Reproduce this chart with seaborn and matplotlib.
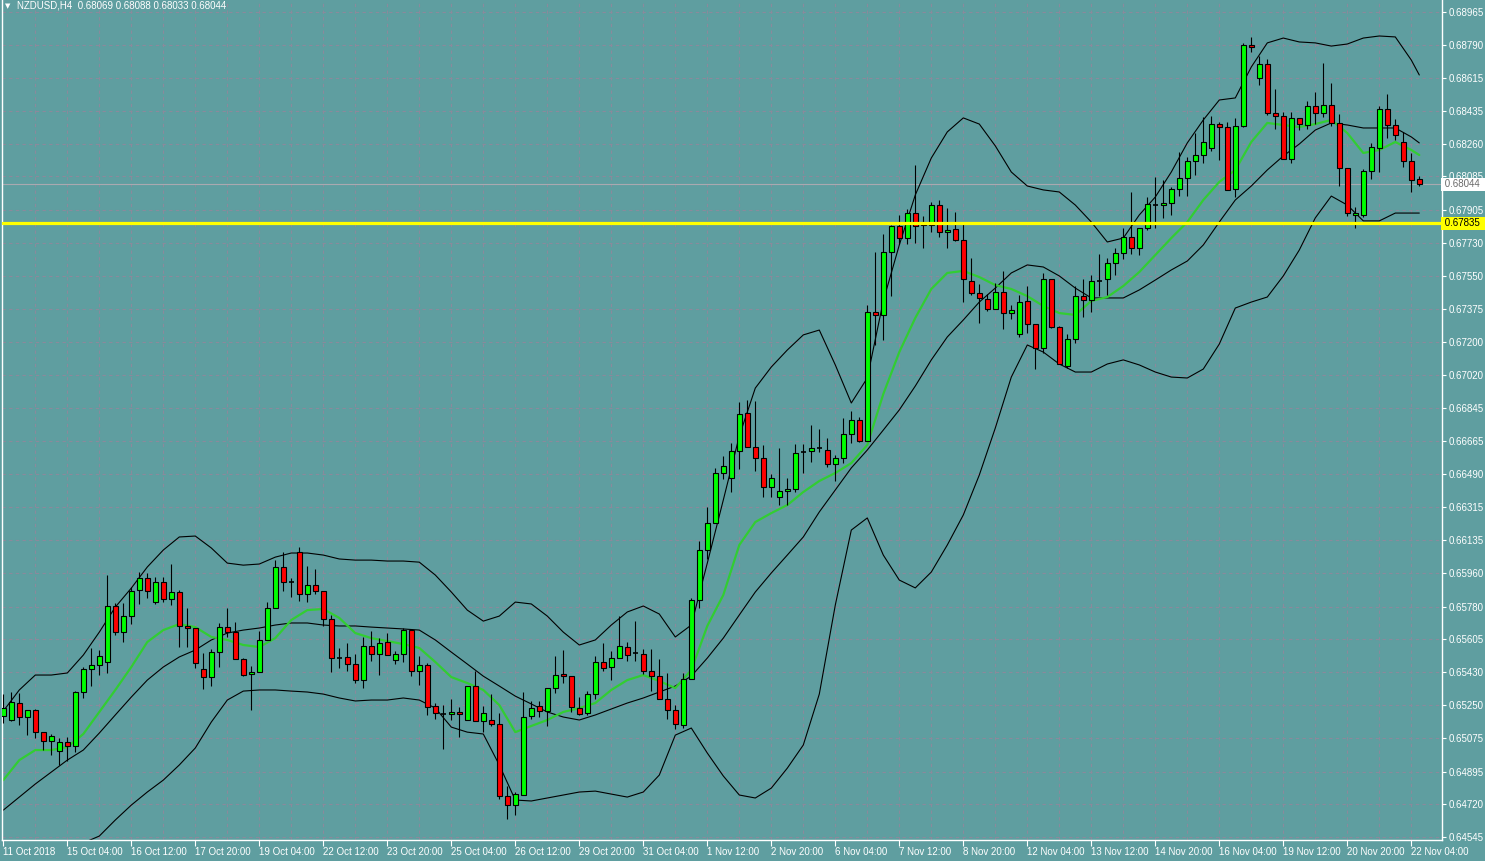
import matplotlib
matplotlib.use("Agg")
import matplotlib.pyplot as plt
import matplotlib.transforms as mtransforms
import seaborn as sns

# ---------------------------------------------------------------
# NZDUSD H4 candles, bar 0 = 11 Oct 2018 20:00
# ---------------------------------------------------------------
open_ = [
    0.65193, 0.65172, 0.65263, 0.65188, 0.65225, 0.65107, 0.65059, 0.65006, 0.65054, 0.65032,
    0.65322, 0.65445, 0.65467, 0.65483, 0.65783, 0.65643, 0.65729, 0.65869, 0.65933, 0.65804,
    0.65911, 0.65820, 0.65858, 0.65676, 0.65665, 0.65445, 0.65402, 0.65536, 0.65670, 0.65643,
    0.65499, 0.65418, 0.65429, 0.65601, 0.65772, 0.65992, 0.65911, 0.66072, 0.65847, 0.65895,
    0.65863, 0.65713, 0.65504, 0.65510, 0.65472, 0.65386, 0.65569, 0.65526, 0.65590, 0.65493,
    0.65526, 0.65654, 0.65434, 0.65467, 0.65247, 0.65204, 0.65204, 0.65215, 0.65172, 0.65354,
    0.65166, 0.65172, 0.65150, 0.64764, 0.64716, 0.64770, 0.65193, 0.65247, 0.65220, 0.65343,
    0.65418, 0.65407, 0.65236, 0.65209, 0.65311, 0.65483, 0.65456, 0.65504, 0.65563, 0.65531,
    0.65526, 0.65434, 0.65407, 0.65284, 0.65225, 0.65145, 0.65392, 0.65815, 0.66083, 0.66228,
    0.66496, 0.66469, 0.66614, 0.66817, 0.66635, 0.66576, 0.66420, 0.66367, 0.66399, 0.66410,
    0.66608, 0.66614, 0.66630, 0.66619, 0.66544, 0.66576, 0.66705, 0.66780, 0.66667, 0.67359,
    0.67343, 0.67680, 0.67820, 0.67755, 0.67889, 0.67841, 0.67825, 0.67932, 0.67787, 0.67804,
    0.67745, 0.67525, 0.67461, 0.67429, 0.67375, 0.67466, 0.67353, 0.67241, 0.67418, 0.67294,
    0.67166, 0.67536, 0.67278, 0.67069, 0.67214, 0.67444, 0.67423, 0.67525, 0.67536, 0.67621,
    0.67675, 0.67761, 0.67702, 0.67809, 0.67932, 0.67932, 0.67943, 0.68018, 0.68077, 0.68168,
    0.68200, 0.68238, 0.68366, 0.68350, 0.68018, 0.68356, 0.68790, 0.68613, 0.68688, 0.68425,
    0.68409, 0.68179, 0.68399, 0.68361, 0.68463, 0.68425, 0.68468, 0.68372, 0.68131, 0.67879,
    0.67879, 0.68115, 0.68238, 0.68447, 0.68361, 0.68270, 0.68168, 0.68069,
]
high = [
    0.65311, 0.65322, 0.65317, 0.65225, 0.65231, 0.65107, 0.65097, 0.65075, 0.65081, 0.65327,
    0.65456, 0.65558, 0.65547, 0.65949, 0.65799, 0.65799, 0.65885, 0.65965, 0.65960, 0.65938,
    0.65938, 0.66008, 0.65869, 0.65772, 0.65665, 0.65531, 0.65552, 0.65692, 0.65772, 0.65697,
    0.65504, 0.65461, 0.65649, 0.65804, 0.66029, 0.66072, 0.65933, 0.66099, 0.65997, 0.65981,
    0.65863, 0.65735, 0.65558, 0.65585, 0.65526, 0.65617, 0.65649, 0.65611, 0.65638, 0.65542,
    0.65665, 0.65660, 0.65515, 0.65477, 0.65263, 0.65252, 0.65284, 0.65241, 0.65354, 0.65434,
    0.65247, 0.65311, 0.65209, 0.64818, 0.64786, 0.65322, 0.65274, 0.65274, 0.65343, 0.65515,
    0.65547, 0.65407, 0.65295, 0.65327, 0.65515, 0.65585, 0.65542, 0.65729, 0.65590, 0.65702,
    0.65552, 0.65552, 0.65499, 0.65424, 0.65252, 0.65424, 0.65826, 0.66131, 0.66313, 0.66523,
    0.66587, 0.66657, 0.66876, 0.66887, 0.66882, 0.66646, 0.66490, 0.66630, 0.66469, 0.66651,
    0.66651, 0.66753, 0.66732, 0.66683, 0.66592, 0.66791, 0.66828, 0.66796, 0.67396, 0.67680,
    0.67777, 0.67825, 0.67879, 0.67911, 0.68147, 0.67873, 0.67948, 0.67959, 0.67916, 0.67895,
    0.67836, 0.67648, 0.67509, 0.67455, 0.67514, 0.67579, 0.67396, 0.67450, 0.67498, 0.67294,
    0.67568, 0.67536, 0.67284, 0.67241, 0.67498, 0.67536, 0.67557, 0.67670, 0.67648, 0.67702,
    0.67809, 0.68002, 0.67809, 0.67975, 0.68083, 0.68066, 0.68029, 0.68216, 0.68190, 0.68318,
    0.68404, 0.68409, 0.68377, 0.68377, 0.68398, 0.68801, 0.68833, 0.68731, 0.68715, 0.68554,
    0.68431, 0.68431, 0.68399, 0.68490, 0.68538, 0.68693, 0.68586, 0.68420, 0.68131, 0.67921,
    0.68125, 0.68264, 0.68463, 0.68527, 0.68393, 0.68324, 0.68211, 0.68088,
]
low = [
    0.65156, 0.65166, 0.65145, 0.65091, 0.65075, 0.65011, 0.64984, 0.64931, 0.64952, 0.65000,
    0.65290, 0.65354, 0.65413, 0.65424, 0.65627, 0.65590, 0.65686, 0.65794, 0.65826, 0.65794,
    0.65804, 0.65788, 0.65563, 0.65563, 0.65451, 0.65338, 0.65354, 0.65456, 0.65617, 0.65499,
    0.65407, 0.65225, 0.65429, 0.65601, 0.65772, 0.65863, 0.65831, 0.65810, 0.65804, 0.65847,
    0.65676, 0.65429, 0.65451, 0.65435, 0.65370, 0.65343, 0.65488, 0.65413, 0.65520, 0.65472,
    0.65483, 0.65407, 0.65359, 0.65199, 0.65177, 0.65016, 0.65172, 0.65081, 0.65172, 0.65166,
    0.65107, 0.65140, 0.64748, 0.64641, 0.64663, 0.64770, 0.65177, 0.65188, 0.65140, 0.65317,
    0.65370, 0.65215, 0.65199, 0.65199, 0.65284, 0.65434, 0.65386, 0.65504, 0.65488, 0.65488,
    0.65418, 0.65327, 0.65284, 0.65177, 0.65123, 0.65129, 0.65392, 0.65772, 0.66035, 0.66228,
    0.66464, 0.66394, 0.66517, 0.66635, 0.66506, 0.66367, 0.66367, 0.66324, 0.66324, 0.66394,
    0.66496, 0.66555, 0.66608, 0.66528, 0.66453, 0.66549, 0.66657, 0.66662, 0.66667, 0.67182,
    0.67209, 0.67444, 0.67723, 0.67723, 0.67729, 0.67702, 0.67787, 0.67761, 0.67702, 0.67739,
    0.67412, 0.67450, 0.67300, 0.67364, 0.67375, 0.67268, 0.67321, 0.67225, 0.67246, 0.67053,
    0.67139, 0.67273, 0.67080, 0.67059, 0.67193, 0.67332, 0.67359, 0.67444, 0.67450, 0.67557,
    0.67643, 0.67670, 0.67664, 0.67798, 0.67809, 0.67863, 0.67879, 0.67980, 0.67980, 0.68093,
    0.68157, 0.68222, 0.68174, 0.68013, 0.67975, 0.68350, 0.68752, 0.68575, 0.68415, 0.68340,
    0.68179, 0.68157, 0.68334, 0.68340, 0.68366, 0.68404, 0.68356, 0.68034, 0.67873, 0.67809,
    0.67868, 0.68072, 0.68109, 0.68291, 0.68281, 0.68136, 0.68002, 0.68033,
]
close = [
    0.65236, 0.65268, 0.65188, 0.65225, 0.65107, 0.65059, 0.65086, 0.65054, 0.65032, 0.65322,
    0.65445, 0.65467, 0.65515, 0.65783, 0.65643, 0.65729, 0.65863, 0.65933, 0.65863, 0.65911,
    0.65820, 0.65858, 0.65676, 0.65665, 0.65477, 0.65402, 0.65536, 0.65670, 0.65643, 0.65499,
    0.65413, 0.65429, 0.65601, 0.65772, 0.65992, 0.65911, 0.65911, 0.65847, 0.65895, 0.65863,
    0.65713, 0.65504, 0.65504, 0.65472, 0.65386, 0.65569, 0.65526, 0.65585, 0.65520, 0.65526,
    0.65654, 0.65434, 0.65467, 0.65241, 0.65209, 0.65204, 0.65215, 0.65204, 0.65354, 0.65166,
    0.65209, 0.65150, 0.64764, 0.64716, 0.64775, 0.65188, 0.65236, 0.65220, 0.65343, 0.65413,
    0.65407, 0.65241, 0.65204, 0.65311, 0.65483, 0.65451, 0.65504, 0.65569, 0.65520, 0.65531,
    0.65434, 0.65407, 0.65284, 0.65225, 0.65150, 0.65392, 0.65815, 0.66083, 0.66228, 0.66496,
    0.66533, 0.66614, 0.66812, 0.66635, 0.66576, 0.66420, 0.66469, 0.66399, 0.66410, 0.66603,
    0.66608, 0.66630, 0.66630, 0.66544, 0.66576, 0.66705, 0.66780, 0.66667, 0.67359, 0.67343,
    0.67680, 0.67820, 0.67755, 0.67889, 0.67820, 0.67825, 0.67932, 0.67787, 0.67798, 0.67745,
    0.67536, 0.67461, 0.67434, 0.67375, 0.67466, 0.67353, 0.67369, 0.67412, 0.67294, 0.67166,
    0.67536, 0.67278, 0.67080, 0.67214, 0.67444, 0.67423, 0.67525, 0.67525, 0.67621, 0.67675,
    0.67761, 0.67702, 0.67809, 0.67938, 0.67932, 0.67943, 0.68018, 0.68077, 0.68168, 0.68200,
    0.68270, 0.68366, 0.68350, 0.68013, 0.68356, 0.68790, 0.68779, 0.68688, 0.68425, 0.68409,
    0.68179, 0.68399, 0.68366, 0.68463, 0.68425, 0.68468, 0.68372, 0.68131, 0.67889, 0.67889,
    0.68115, 0.68243, 0.68447, 0.68361, 0.68307, 0.68168, 0.68066, 0.68044,
]

# indicator lines (Bollinger bands + green MA), read every 2 bars
band_bar = list(range(0, 177, 2)) + [177]
upper_band = [
    0.65220, 0.65333, 0.65413, 0.65413, 0.65424, 0.65520, 0.65643, 0.65777, 0.65879, 0.65992,
    0.66083, 0.66153, 0.66158, 0.66094, 0.66013, 0.66002, 0.66008, 0.66045, 0.66067, 0.66067,
    0.66056, 0.66035, 0.66029, 0.66029, 0.66024, 0.66024, 0.66018, 0.65949, 0.65858, 0.65761,
    0.65702, 0.65729, 0.65804, 0.65794, 0.65729, 0.65643, 0.65574, 0.65601, 0.65681, 0.65751,
    0.65783, 0.65740, 0.65617, 0.65681, 0.66013, 0.66351, 0.66694, 0.66951, 0.67064, 0.67155,
    0.67236, 0.67262, 0.67075, 0.66871, 0.67005, 0.67418, 0.67718, 0.67986, 0.68184, 0.68324,
    0.68399, 0.68366, 0.68249, 0.68109, 0.68034, 0.68013, 0.68002, 0.67932, 0.67841, 0.67734,
    0.67755, 0.67879, 0.67975, 0.68109, 0.68265, 0.68388, 0.68495, 0.68506, 0.68672, 0.68801,
    0.68827, 0.68806, 0.68801, 0.68784, 0.68795, 0.68827, 0.68838, 0.68833, 0.68709, 0.68629,
]
middle_band = [
    0.64689, 0.64759, 0.64829, 0.64893, 0.64957, 0.65011, 0.65102, 0.65199, 0.65295, 0.65386,
    0.65456, 0.65510, 0.65547, 0.65601, 0.65638, 0.65654, 0.65665, 0.65681, 0.65692, 0.65692,
    0.65681, 0.65676, 0.65676, 0.65670, 0.65665, 0.65660, 0.65654, 0.65601, 0.65536, 0.65472,
    0.65407, 0.65354, 0.65300, 0.65258, 0.65215, 0.65188, 0.65172, 0.65199, 0.65231, 0.65263,
    0.65290, 0.65322, 0.65354, 0.65407, 0.65504, 0.65611, 0.65735, 0.65858, 0.65960, 0.66056,
    0.66153, 0.66287, 0.66405, 0.66523, 0.66619, 0.66726, 0.66834, 0.66962, 0.67102, 0.67225,
    0.67316, 0.67412, 0.67487, 0.67568, 0.67611, 0.67600, 0.67552, 0.67487, 0.67434, 0.67434,
    0.67434, 0.67477, 0.67530, 0.67584, 0.67632, 0.67718, 0.67841, 0.67959, 0.68034, 0.68120,
    0.68195, 0.68259, 0.68334, 0.68372, 0.68361, 0.68345, 0.68345, 0.68345, 0.68297, 0.68265,
]
lower_band = [
    0.64180, 0.64261, 0.64314, 0.64384, 0.64475, 0.64513, 0.64550, 0.64636, 0.64716, 0.64786,
    0.64850, 0.64931, 0.65022, 0.65161, 0.65279, 0.65327, 0.65333, 0.65333, 0.65327, 0.65322,
    0.65311, 0.65290, 0.65274, 0.65279, 0.65279, 0.65290, 0.65279, 0.65236, 0.65134, 0.65107,
    0.65097, 0.64931, 0.64743, 0.64738, 0.64754, 0.64770, 0.64786, 0.64791, 0.64775, 0.64759,
    0.64786, 0.64877, 0.65091, 0.65129, 0.64995, 0.64872, 0.64770, 0.64754, 0.64807, 0.64914,
    0.65038, 0.65311, 0.65788, 0.66190, 0.66255, 0.66056, 0.65922, 0.65880, 0.65965, 0.66110,
    0.66271, 0.66485, 0.66737, 0.67010, 0.67182, 0.67144, 0.67080, 0.67037, 0.67037, 0.67080,
    0.67102, 0.67075, 0.67037, 0.67010, 0.67005, 0.67053, 0.67187, 0.67380, 0.67412, 0.67439,
    0.67552, 0.67691, 0.67863, 0.67980, 0.67932, 0.67847, 0.67847, 0.67889, 0.67889, 0.67889,
]
ma_line = [
    0.64850, 0.64957, 0.65011, 0.65011, 0.65027, 0.65097, 0.65215, 0.65333, 0.65456, 0.65590,
    0.65654, 0.65686, 0.65670, 0.65617, 0.65601, 0.65574, 0.65563, 0.65611, 0.65708, 0.65761,
    0.65767, 0.65719, 0.65638, 0.65611, 0.65595, 0.65579, 0.65558, 0.65483, 0.65402, 0.65370,
    0.65333, 0.65252, 0.65107, 0.65140, 0.65172, 0.65215, 0.65236, 0.65263, 0.65333, 0.65386,
    0.65413, 0.65381, 0.65343, 0.65440, 0.65676, 0.65842, 0.66110, 0.66233, 0.66281, 0.66324,
    0.66394, 0.66453, 0.66496, 0.66549, 0.66646, 0.66919, 0.67144, 0.67327, 0.67482, 0.67568,
    0.67579, 0.67546, 0.67503, 0.67482, 0.67444, 0.67391, 0.67353, 0.67343, 0.67418, 0.67439,
    0.67498, 0.67573, 0.67664, 0.67755, 0.67841, 0.67959, 0.68056, 0.68120, 0.68270, 0.68372,
    0.68361, 0.68350, 0.68366, 0.68388, 0.68318, 0.68211, 0.68227, 0.68270, 0.68227, 0.68200,
]

price_labels = [
    "0.68965", "0.68790", "0.68615", "0.68435", "0.68260", "0.68085", "0.67905",
    "0.67730", "0.67550", "0.67375", "0.67200", "0.67020", "0.66845", "0.66665",
    "0.66490", "0.66315", "0.66135", "0.65960", "0.65780", "0.65605", "0.65430",
    "0.65250", "0.65075", "0.64895", "0.64720", "0.64545",
]
date_labels = [
    "11 Oct 2018", "15 Oct 04:00", "16 Oct 12:00", "17 Oct 20:00", "19 Oct 04:00",
    "22 Oct 12:00", "23 Oct 20:00", "25 Oct 04:00", "26 Oct 12:00", "29 Oct 20:00",
    "31 Oct 04:00", "1 Nov 12:00", "2 Nov 20:00", "6 Nov 04:00", "7 Nov 12:00",
    "8 Nov 20:00", "12 Nov 04:00", "13 Nov 12:00", "14 Nov 20:00", "16 Nov 04:00",
    "19 Nov 12:00", "20 Nov 20:00", "22 Nov 04:00",
]
level_price = 0.67835
bid_price = 0.68044
title = "NZDUSD,H4  0.68069 0.68088 0.68033 0.68044"

# ---------------------------------------------------------------
BG = "#5F9EA0"
GRID = "#8a8a9c"

sns.set_theme(style="dark", rc={
    "axes.facecolor": BG,
    "figure.facecolor": BG,
    "axes.edgecolor": "white",
})
plt.rcParams["font.family"] = ["Liberation Sans", "DejaVu Sans"]

fig = plt.figure(figsize=(14.85, 8.61), dpi=100)
W, H = 1485, 861
ax = fig.add_axes([2 / W, 1 - 840 / H, 1440 / W, 840 / H])

n = len(close)
bars = list(range(n))

# grid
for p in price_labels:
    ax.axhline(float(p), color=GRID, lw=0.8, ls=(0, (3, 3)), zorder=0)
for b in range(4, n + 2, 4):
    ax.axvline(b, color=GRID, lw=0.8, ls=(0, (3, 3)), zorder=0)

# bid line and level line
ax.axhline(bid_price, color="#a9a9b0", lw=0.8, zorder=1)
ax.axhline(level_price, color="#FFFF00", lw=2.3, zorder=6)

# indicator lines
for vals in (upper_band, middle_band, lower_band):
    sns.lineplot(x=band_bar, y=vals, ax=ax, color="black", lw=0.8,
                 estimator=None, sort=False, zorder=2)
sns.lineplot(x=band_bar, y=ma_line, ax=ax, color="#32CD32", lw=1.6,
             estimator=None, sort=False, zorder=2)

# candles
ax.vlines(bars, low, high, color="black", lw=0.8, zorder=3)
body_w = 0.62
for i in bars:
    o, c = open_[i], close[i]
    if abs(c - o) < 1e-9:
        ax.hlines(o, i - body_w / 2, i + body_w / 2, color="black", lw=1.2, zorder=4)
        continue
    col = "#00FF00" if c > o else "#FF0000"
    ax.bar(i, abs(c - o), bottom=min(o, c), width=body_w, color=col,
           edgecolor="black", linewidth=0.8, zorder=4)

# axes limits / ticks
ax.set_xlim((2 - 3.3) / 8, (1442 - 3.3) / 8)
ax.set_ylim(0.645289, 0.690309)
ax.yaxis.tick_right()
ax.set_yticks([float(p) for p in price_labels])
ax.set_yticklabels(price_labels)
ax.set_xticks(list(range(0, n, 8))[:len(date_labels)])
ax.set_xticklabels(date_labels, ha="left")
ax.tick_params(axis="y", colors="white", labelcolor="white", length=3, width=0.8,
               labelsize=7, pad=2, right=True, left=False)
ax.tick_params(axis="x", colors="white", labelcolor="white", length=4, width=0.8,
               labelsize=7, pad=1, bottom=True)
ax.set_xlabel("")
ax.set_ylabel("")
ax.grid(False)
ax.spines["top"].set_visible(False)
for side in ["left", "right", "bottom"]:
    ax.spines[side].set_color("white")
    ax.spines[side].set_linewidth(1)

# price boxes on the right scale
trans = mtransforms.blended_transform_factory(ax.transAxes, ax.transData)
ax.text(1.0, level_price, " 0.67835  ", transform=trans, ha="left", va="center",
        fontsize=7, color="black", zorder=10, clip_on=False,
        bbox=dict(boxstyle="square,pad=0.15", fc="#FFFF00", ec="none"))
ax.text(1.0, bid_price, " 0.68044  ", transform=trans, ha="left", va="center",
        fontsize=7, color="#6a6a6a", zorder=10, clip_on=False,
        bbox=dict(boxstyle="square,pad=0.15", fc="white", ec="none"))

# header
fig.text(5 / W, 1 - 6 / H, "\u25BC", color="white", fontsize=5, va="center", ha="left",
         family=["DejaVu Sans"])
fig.text(17 / W, 1 - 6 / H, title, color="white", fontsize=7, va="center", ha="left")

fig.savefig("out.png", dpi=100, facecolor=BG)
